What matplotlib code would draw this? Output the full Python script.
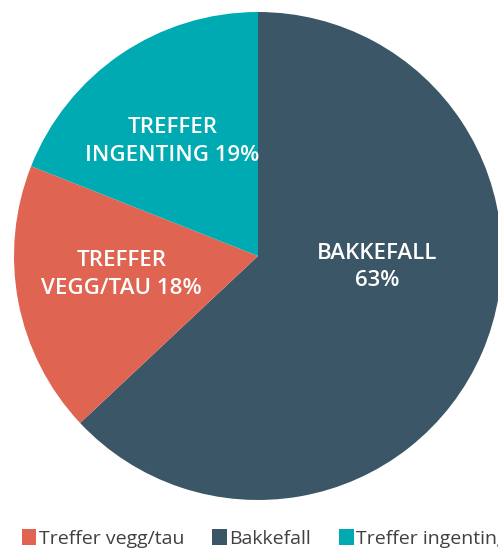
import matplotlib
matplotlib.use("Agg")
import matplotlib.pyplot as plt
from matplotlib.patches import Patch

categories = ["Bakkefall", "Treffer vegg/tau", "Treffer ingenting"]
values = [63, 18, 19]
colors = ["#3B5666", "#E06452", "#00AAB2"]
inner_labels = ["BAKKEFALL\n63%", "TREFFER\nVEGG/TAU 18%", "TREFFER\nINGENTING 19%"]
legend_order = ["Treffer vegg/tau", "Bakkefall", "Treffer ingenting"]

plt.rcParams['font.family'] = ['Open Sans', 'DejaVu Sans']

fig = plt.figure(figsize=(4.98, 5.49), dpi=100)
ax = fig.add_axes([14/498, 49/549, 488/498, 488/549])
wedges, _ = ax.pie(values, colors=colors, startangle=90, counterclock=False,
                   radius=1.0, wedgeprops=dict(linewidth=0))
ax.set_xlim(-1, 1)
ax.set_ylim(-1, 1)
ax.set_aspect('equal')
ax.axis('off')

label_pos = [(0.49, -0.045), (-0.56, -0.075), (-0.35, 0.47)]
for (x, y), t in zip(label_pos, inner_labels):
    ax.text(x, y, t, ha='center', va='center', color='white', fontsize=16,
            fontweight='semibold', linespacing=1.4)

handles = [Patch(facecolor=colors[categories.index(n)], edgecolor='none') for n in legend_order]
fig.legend(handles, legend_order, loc='lower left', bbox_to_anchor=(14/498, -0.012),
           ncol=3, frameon=False, handlelength=0.75, handleheight=0.85,
           handletextpad=0.12, columnspacing=1.45, labelcolor='#404040',
           borderaxespad=0, prop={'family': 'Open Sans', 'size': 14})

fig.savefig("out.png", dpi=100)
